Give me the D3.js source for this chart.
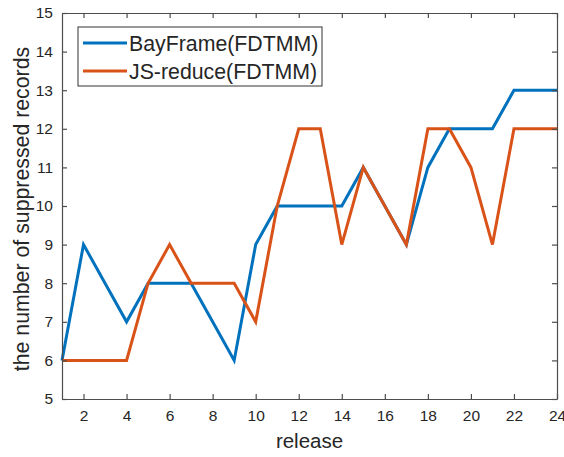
<!DOCTYPE html>
<html>
<head>
<meta charset="utf-8">
<script src="https://cdn.jsdelivr.net/npm/d3@7"></script>
<style>
  body { margin: 0; background: #fff; }
  svg text { font-family: "Liberation Sans", Arial, sans-serif; fill: #262626; }
</style>
</head>
<body>
<div id="chart"></div>
<script>
var releases = d3.range(1, 25);
var bayFrame = [6, 9, 8, 7, 8, 8, 8, 7, 6, 9, 10, 10, 10, 10, 11, 10, 9, 11, 12, 12, 12, 13, 13, 13];
var jsReduce = [6, 6, 6, 6, 8, 9, 8, 8, 8, 7, 10, 12, 12, 9, 11, 10, 9, 12, 12, 11, 9, 12, 12, 12];
var xTicks = d3.range(2, 25, 2);
var yTicks = d3.range(5, 16);
var seriesNames = ['BayFrame(FDTMM)', 'JS-reduce(FDTMM)'];
var seriesColors = ['#0072BD', '#D95319'];

var width = 564, height = 457;
var margin = {top: 13, right: 7, bottom: 58, left: 62};
var innerW = width - margin.left - margin.right;
var innerH = height - margin.top - margin.bottom;

var svg = d3.select('#chart').append('svg')
    .attr('width', width)
    .attr('height', height);

var g = svg.append('g')
    .attr('transform', 'translate(' + margin.left + ',' + margin.top + ')');

var x = d3.scaleLinear().domain([1, 24]).range([0, innerW]);
var y = d3.scaleLinear().domain([5, 15]).range([innerH, 0]);

// lines
var series = [bayFrame, jsReduce];
var line = d3.line()
    .x(function(d, i) { return x(releases[i]); })
    .y(function(d) { return y(d); });

series.forEach(function(s, k) {
    g.append('path')
        .datum(s)
        .attr('fill', 'none')
        .attr('stroke', seriesColors[k])
        .attr('stroke-width', 3)
        .attr('stroke-linejoin', 'miter')
        .attr('d', line);
});

// axes, ticks inside on all sides (matlab box)
var axisColor = '#4d4d4d';
var axisBottomG = g.append('g').attr('transform', 'translate(0,' + innerH + ')')
    .call(d3.axisBottom(x).tickValues(xTicks).tickSizeInner(-5).tickSizeOuter(0).tickPadding(11));
var axisTopG = g.append('g')
    .call(d3.axisTop(x).tickValues(xTicks).tickSizeInner(-5).tickSizeOuter(0).tickFormat(''));
var axisLeftG = g.append('g')
    .call(d3.axisLeft(y).tickValues(yTicks).tickSizeInner(-5).tickSizeOuter(0).tickPadding(9));
var axisRightG = g.append('g').attr('transform', 'translate(' + innerW + ',0)')
    .call(d3.axisRight(y).tickValues(yTicks).tickSizeInner(-5).tickSizeOuter(0).tickFormat(''));

[axisBottomG, axisTopG, axisLeftG, axisRightG].forEach(function(a) {
    a.selectAll('path, line').attr('stroke', axisColor).attr('stroke-width', 1.2);
    a.selectAll('text')
        .style('font-family', '"Liberation Sans", Arial, sans-serif')
        .style('font-size', '15.5px')
        .attr('fill', '#333');
});

// axis labels
svg.append('text')
    .attr('x', margin.left + innerW / 2)
    .attr('y', 448)
    .attr('text-anchor', 'middle')
    .style('font-size', '20.5px')
    .text('release');

svg.append('text')
    .attr('transform', 'translate(29,' + (margin.top + innerH / 2 + 3) + ') rotate(-90)')
    .attr('text-anchor', 'middle')
    .style('font-size', '21.3px')
    .text('the number of suppressed records');

// legend
var legend = svg.append('g').attr('transform', 'translate(78,27)');
legend.append('rect')
    .attr('width', 244)
    .attr('height', 59)
    .attr('fill', '#fff')
    .attr('stroke', '#333')
    .attr('stroke-width', 1);

seriesNames.forEach(function(name, k) {
    var row = legend.append('g').attr('transform', 'translate(0,' + (16 + k * 28) + ')');
    row.append('line')
        .attr('x1', 5).attr('x2', 49)
        .attr('y1', 0).attr('y2', 0)
        .attr('stroke', seriesColors[k])
        .attr('stroke-width', 3);
    row.append('text')
        .attr('x', 51)
        .attr('y', 7.5)
        .style('font-size', '21.3px')
        .text(name);
});
</script>
</body>
</html>
